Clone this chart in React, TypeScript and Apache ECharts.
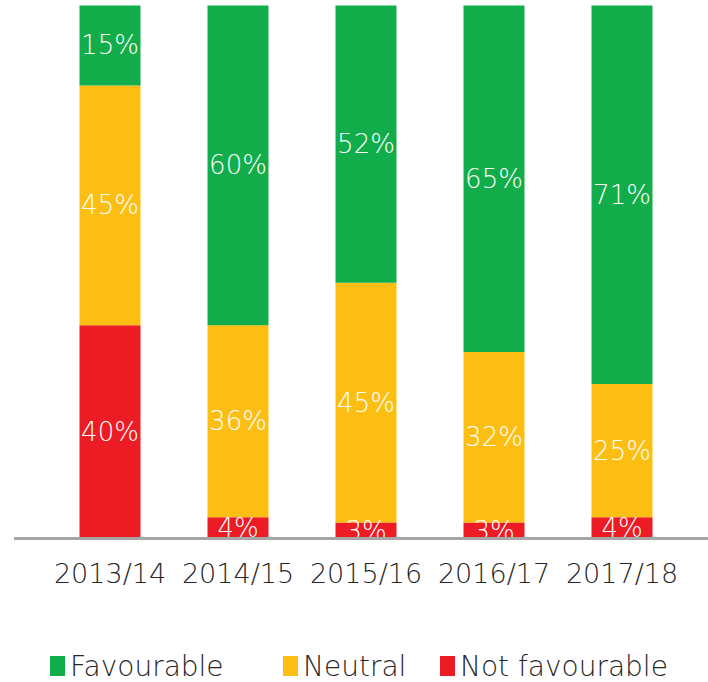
import React, { useEffect, useRef } from "react";
import * as echarts from "echarts";

const categories = ["2013/14", "2014/15", "2015/16", "2016/17", "2017/18"];
const notFavourable = [40, 4, 3, 3, 4];
const neutral = [45, 36, 45, 32, 25];
const favourable = [15, 60, 52, 65, 71];
const legendNames = ["Favourable", "Neutral", "Not favourable"];
const legendLefts = [50, 283, 440];

const FONT = "'DejaVu Sans', sans-serif";

export default function App() {
  const ref = useRef<HTMLDivElement>(null);
  useEffect(() => {
    if (!ref.current) return;
    const chart = echarts.init(ref.current, undefined, { renderer: "svg" });
    const label = {
      show: true,
      position: "inside" as const,
      color: "#ffffff",
      fontFamily: FONT,
      fontWeight: 200 as any,
      fontSize: 26,
      formatter: (p: any) => p.value + "%",
    };
    const mk = (name: string, data: number[], color: string) => ({
      name,
      type: "bar" as const,
      stack: "total",
      data,
      barWidth: 61,
      itemStyle: { color },
      label,
    });
    chart.setOption({
      animation: false,
      grid: { left: 46, right: 22, top: 5.5, bottom: 143.5 },
      legend: legendNames.map((n, i) => ({
        top: 650,
        left: legendLefts[i],
        padding: 0,
        itemWidth: 15,
        itemHeight: 20,
        itemGap: 10,
        icon: "rect",
        textStyle: { fontFamily: FONT, fontWeight: 200 as any, fontSize: 28, color: "#262626", lineHeight: 32 },
        data: [n],
      })),
      xAxis: {
        type: "category",
        data: categories,
        axisLine: { show: false },
        axisTick: { show: false },
        axisLabel: { interval: 0, fontFamily: FONT, fontWeight: 200 as any, fontSize: 27, color: "#262626", margin: 21 },
      },
      yAxis: { type: "value", min: 0, max: 100, show: false, splitLine: { show: false } },
      graphic: [
        {
          type: "line",
          shape: { x1: 14, y1: 538.5, x2: 708, y2: 538.5 },
          style: { stroke: "#a6a6a6", lineWidth: 3 },
          z: 10,
        },
      ],
      series: [
        mk("Not favourable", notFavourable, "#ed1c24"),
        mk("Neutral", neutral, "#fdbe13"),
        mk("Favourable", favourable, "#12ad4b"),
      ],
    });
    return () => chart.dispose();
  }, []);
  return <div ref={ref} style={{ width: 708, height: 682, position: "absolute", left: 0, top: 0 }} />;
}
